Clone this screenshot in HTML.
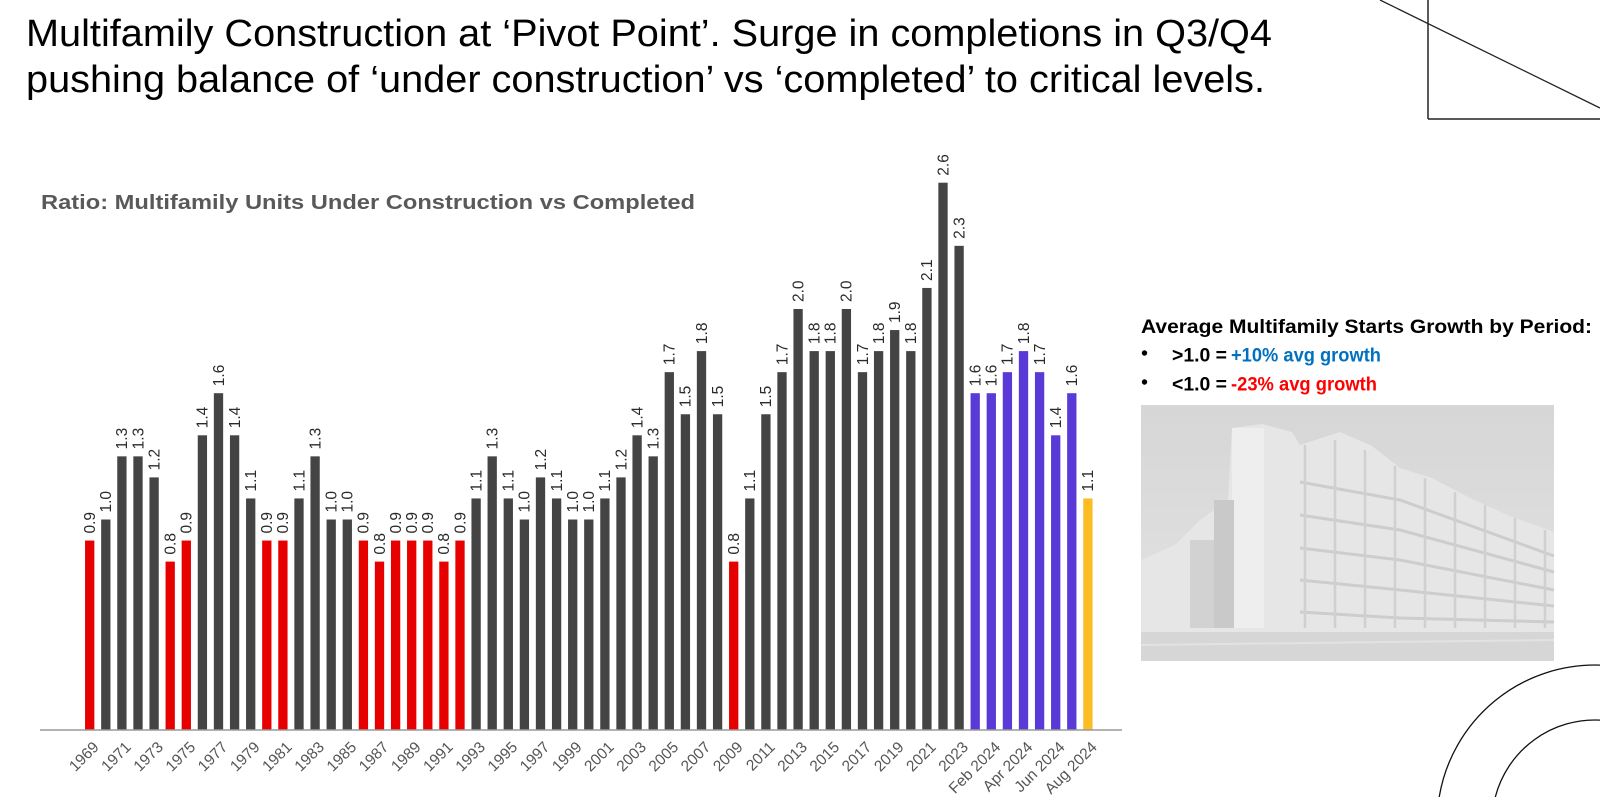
<!DOCTYPE html>
<html>
<head>
<meta charset="utf-8">
<style>
html,body{margin:0;padding:0;background:#fff;}
body{width:1600px;height:797px;overflow:hidden;}
svg{display:block;}
.d{fill:#444444;}
.r{fill:#e60000;}
.p{fill:#5a3ad6;}
.y{fill:#fbbc24;}
.v{font-family:"Liberation Sans",Arial,sans-serif;font-size:15.5px;fill:#2a2a2a;}
.xl{font-family:"Liberation Sans",Arial,sans-serif;font-size:15.5px;fill:#555;text-anchor:end;}
</style>
</head>
<body>
<svg width="1600" height="797" viewBox="0 0 1600 797" xmlns="http://www.w3.org/2000/svg">
<defs>
<linearGradient id="sky" x1="0" y1="0" x2="0" y2="1">
<stop offset="0" stop-color="#d6d6d6"/>
<stop offset="0.6" stop-color="#dedede"/>
<stop offset="1" stop-color="#d9d9d9"/>
</linearGradient>
</defs>

<!-- Title -->
<text x="26" y="46" font-family="'Liberation Sans',Arial,sans-serif" font-size="38" fill="#000" textLength="1246" lengthAdjust="spacingAndGlyphs">Multifamily Construction at ‘Pivot Point’. Surge in completions in Q3/Q4</text>
<text x="26" y="92" font-family="'Liberation Sans',Arial,sans-serif" font-size="38" fill="#000" textLength="1239" lengthAdjust="spacingAndGlyphs">pushing balance of ‘under construction’ vs ‘completed’ to critical levels.</text>

<!-- Decorations -->
<line x1="1428" y1="0" x2="1428" y2="119" stroke="#222" stroke-width="1.5"/>
<line x1="1428" y1="119" x2="1600" y2="119" stroke="#222" stroke-width="1.5"/>
<line x1="1380" y1="0" x2="1600" y2="108" stroke="#222" stroke-width="1.3"/>
<path d="M1439.2,797 A158,158 0 0,1 1600,665.1" fill="none" stroke="#111" stroke-width="1.3"/>
<path d="M1495.3,797 A103,103 0 0,1 1600,720.1" fill="none" stroke="#111" stroke-width="1.3"/>

<!-- Chart subtitle -->
<text x="41" y="209" font-family="'Liberation Sans',Arial,sans-serif" font-size="20" font-weight="bold" fill="#595959" textLength="654" lengthAdjust="spacingAndGlyphs">Ratio: Multifamily Units Under Construction vs Completed</text>

<!-- Bars -->
<g transform="translate(89.7,730)"><rect class="r" x="-4.65" y="-189.45" width="9.3" height="189.45"/><text class="v" transform="translate(5.3,-196.45) rotate(-90)">0.9</text></g>
<g transform="translate(105.8,730)"><rect class="d" x="-4.65" y="-210.5" width="9.3" height="210.5"/><text class="v" transform="translate(5.3,-217.5) rotate(-90)">1.0</text></g>
<g transform="translate(121.9,730)"><rect class="d" x="-4.65" y="-273.65" width="9.3" height="273.65"/><text class="v" transform="translate(5.3,-280.65) rotate(-90)">1.3</text></g>
<g transform="translate(138.0,730)"><rect class="d" x="-4.65" y="-273.65" width="9.3" height="273.65"/><text class="v" transform="translate(5.3,-280.65) rotate(-90)">1.3</text></g>
<g transform="translate(154.1,730)"><rect class="d" x="-4.65" y="-252.6" width="9.3" height="252.6"/><text class="v" transform="translate(5.3,-259.6) rotate(-90)">1.2</text></g>
<g transform="translate(170.2,730)"><rect class="r" x="-4.65" y="-168.4" width="9.3" height="168.4"/><text class="v" transform="translate(5.3,-175.4) rotate(-90)">0.8</text></g>
<g transform="translate(186.3,730)"><rect class="r" x="-4.65" y="-189.45" width="9.3" height="189.45"/><text class="v" transform="translate(5.3,-196.45) rotate(-90)">0.9</text></g>
<g transform="translate(202.4,730)"><rect class="d" x="-4.65" y="-294.7" width="9.3" height="294.7"/><text class="v" transform="translate(5.3,-301.7) rotate(-90)">1.4</text></g>
<g transform="translate(218.5,730)"><rect class="d" x="-4.65" y="-336.8" width="9.3" height="336.8"/><text class="v" transform="translate(5.3,-343.8) rotate(-90)">1.6</text></g>
<g transform="translate(234.6,730)"><rect class="d" x="-4.65" y="-294.7" width="9.3" height="294.7"/><text class="v" transform="translate(5.3,-301.7) rotate(-90)">1.4</text></g>
<g transform="translate(250.7,730)"><rect class="d" x="-4.65" y="-231.55" width="9.3" height="231.55"/><text class="v" transform="translate(5.3,-238.55) rotate(-90)">1.1</text></g>
<g transform="translate(266.8,730)"><rect class="r" x="-4.65" y="-189.45" width="9.3" height="189.45"/><text class="v" transform="translate(5.3,-196.45) rotate(-90)">0.9</text></g>
<g transform="translate(282.9,730)"><rect class="r" x="-4.65" y="-189.45" width="9.3" height="189.45"/><text class="v" transform="translate(5.3,-196.45) rotate(-90)">0.9</text></g>
<g transform="translate(299.0,730)"><rect class="d" x="-4.65" y="-231.55" width="9.3" height="231.55"/><text class="v" transform="translate(5.3,-238.55) rotate(-90)">1.1</text></g>
<g transform="translate(315.1,730)"><rect class="d" x="-4.65" y="-273.65" width="9.3" height="273.65"/><text class="v" transform="translate(5.3,-280.65) rotate(-90)">1.3</text></g>
<g transform="translate(331.2,730)"><rect class="d" x="-4.65" y="-210.5" width="9.3" height="210.5"/><text class="v" transform="translate(5.3,-217.5) rotate(-90)">1.0</text></g>
<g transform="translate(347.3,730)"><rect class="d" x="-4.65" y="-210.5" width="9.3" height="210.5"/><text class="v" transform="translate(5.3,-217.5) rotate(-90)">1.0</text></g>
<g transform="translate(363.4,730)"><rect class="r" x="-4.65" y="-189.45" width="9.3" height="189.45"/><text class="v" transform="translate(5.3,-196.45) rotate(-90)">0.9</text></g>
<g transform="translate(379.5,730)"><rect class="r" x="-4.65" y="-168.4" width="9.3" height="168.4"/><text class="v" transform="translate(5.3,-175.4) rotate(-90)">0.8</text></g>
<g transform="translate(395.6,730)"><rect class="r" x="-4.65" y="-189.45" width="9.3" height="189.45"/><text class="v" transform="translate(5.3,-196.45) rotate(-90)">0.9</text></g>
<g transform="translate(411.7,730)"><rect class="r" x="-4.65" y="-189.45" width="9.3" height="189.45"/><text class="v" transform="translate(5.3,-196.45) rotate(-90)">0.9</text></g>
<g transform="translate(427.8,730)"><rect class="r" x="-4.65" y="-189.45" width="9.3" height="189.45"/><text class="v" transform="translate(5.3,-196.45) rotate(-90)">0.9</text></g>
<g transform="translate(443.9,730)"><rect class="r" x="-4.65" y="-168.4" width="9.3" height="168.4"/><text class="v" transform="translate(5.3,-175.4) rotate(-90)">0.8</text></g>
<g transform="translate(460.0,730)"><rect class="r" x="-4.65" y="-189.45" width="9.3" height="189.45"/><text class="v" transform="translate(5.3,-196.45) rotate(-90)">0.9</text></g>
<g transform="translate(476.1,730)"><rect class="d" x="-4.65" y="-231.55" width="9.3" height="231.55"/><text class="v" transform="translate(5.3,-238.55) rotate(-90)">1.1</text></g>
<g transform="translate(492.2,730)"><rect class="d" x="-4.65" y="-273.65" width="9.3" height="273.65"/><text class="v" transform="translate(5.3,-280.65) rotate(-90)">1.3</text></g>
<g transform="translate(508.3,730)"><rect class="d" x="-4.65" y="-231.55" width="9.3" height="231.55"/><text class="v" transform="translate(5.3,-238.55) rotate(-90)">1.1</text></g>
<g transform="translate(524.4,730)"><rect class="d" x="-4.65" y="-210.5" width="9.3" height="210.5"/><text class="v" transform="translate(5.3,-217.5) rotate(-90)">1.0</text></g>
<g transform="translate(540.5,730)"><rect class="d" x="-4.65" y="-252.6" width="9.3" height="252.6"/><text class="v" transform="translate(5.3,-259.6) rotate(-90)">1.2</text></g>
<g transform="translate(556.6,730)"><rect class="d" x="-4.65" y="-231.55" width="9.3" height="231.55"/><text class="v" transform="translate(5.3,-238.55) rotate(-90)">1.1</text></g>
<g transform="translate(572.7,730)"><rect class="d" x="-4.65" y="-210.5" width="9.3" height="210.5"/><text class="v" transform="translate(5.3,-217.5) rotate(-90)">1.0</text></g>
<g transform="translate(588.8,730)"><rect class="d" x="-4.65" y="-210.5" width="9.3" height="210.5"/><text class="v" transform="translate(5.3,-217.5) rotate(-90)">1.0</text></g>
<g transform="translate(604.9,730)"><rect class="d" x="-4.65" y="-231.55" width="9.3" height="231.55"/><text class="v" transform="translate(5.3,-238.55) rotate(-90)">1.1</text></g>
<g transform="translate(621.0,730)"><rect class="d" x="-4.65" y="-252.6" width="9.3" height="252.6"/><text class="v" transform="translate(5.3,-259.6) rotate(-90)">1.2</text></g>
<g transform="translate(637.1,730)"><rect class="d" x="-4.65" y="-294.7" width="9.3" height="294.7"/><text class="v" transform="translate(5.3,-301.7) rotate(-90)">1.4</text></g>
<g transform="translate(653.2,730)"><rect class="d" x="-4.65" y="-273.65" width="9.3" height="273.65"/><text class="v" transform="translate(5.3,-280.65) rotate(-90)">1.3</text></g>
<g transform="translate(669.3,730)"><rect class="d" x="-4.65" y="-357.85" width="9.3" height="357.85"/><text class="v" transform="translate(5.3,-364.85) rotate(-90)">1.7</text></g>
<g transform="translate(685.4,730)"><rect class="d" x="-4.65" y="-315.75" width="9.3" height="315.75"/><text class="v" transform="translate(5.3,-322.75) rotate(-90)">1.5</text></g>
<g transform="translate(701.5,730)"><rect class="d" x="-4.65" y="-378.9" width="9.3" height="378.9"/><text class="v" transform="translate(5.3,-385.9) rotate(-90)">1.8</text></g>
<g transform="translate(717.6,730)"><rect class="d" x="-4.65" y="-315.75" width="9.3" height="315.75"/><text class="v" transform="translate(5.3,-322.75) rotate(-90)">1.5</text></g>
<g transform="translate(733.7,730)"><rect class="r" x="-4.65" y="-168.4" width="9.3" height="168.4"/><text class="v" transform="translate(5.3,-175.4) rotate(-90)">0.8</text></g>
<g transform="translate(749.8,730)"><rect class="d" x="-4.65" y="-231.55" width="9.3" height="231.55"/><text class="v" transform="translate(5.3,-238.55) rotate(-90)">1.1</text></g>
<g transform="translate(765.9,730)"><rect class="d" x="-4.65" y="-315.75" width="9.3" height="315.75"/><text class="v" transform="translate(5.3,-322.75) rotate(-90)">1.5</text></g>
<g transform="translate(782.0,730)"><rect class="d" x="-4.65" y="-357.85" width="9.3" height="357.85"/><text class="v" transform="translate(5.3,-364.85) rotate(-90)">1.7</text></g>
<g transform="translate(798.1,730)"><rect class="d" x="-4.65" y="-421" width="9.3" height="421"/><text class="v" transform="translate(5.3,-428) rotate(-90)">2.0</text></g>
<g transform="translate(814.2,730)"><rect class="d" x="-4.65" y="-378.9" width="9.3" height="378.9"/><text class="v" transform="translate(5.3,-385.9) rotate(-90)">1.8</text></g>
<g transform="translate(830.3,730)"><rect class="d" x="-4.65" y="-378.9" width="9.3" height="378.9"/><text class="v" transform="translate(5.3,-385.9) rotate(-90)">1.8</text></g>
<g transform="translate(846.4,730)"><rect class="d" x="-4.65" y="-421" width="9.3" height="421"/><text class="v" transform="translate(5.3,-428) rotate(-90)">2.0</text></g>
<g transform="translate(862.5,730)"><rect class="d" x="-4.65" y="-357.85" width="9.3" height="357.85"/><text class="v" transform="translate(5.3,-364.85) rotate(-90)">1.7</text></g>
<g transform="translate(878.6,730)"><rect class="d" x="-4.65" y="-378.9" width="9.3" height="378.9"/><text class="v" transform="translate(5.3,-385.9) rotate(-90)">1.8</text></g>
<g transform="translate(894.7,730)"><rect class="d" x="-4.65" y="-399.95" width="9.3" height="399.95"/><text class="v" transform="translate(5.3,-406.95) rotate(-90)">1.9</text></g>
<g transform="translate(910.8,730)"><rect class="d" x="-4.65" y="-378.9" width="9.3" height="378.9"/><text class="v" transform="translate(5.3,-385.9) rotate(-90)">1.8</text></g>
<g transform="translate(926.9,730)"><rect class="d" x="-4.65" y="-442.05" width="9.3" height="442.05"/><text class="v" transform="translate(5.3,-449.05) rotate(-90)">2.1</text></g>
<g transform="translate(943.0,730)"><rect class="d" x="-4.65" y="-547.3" width="9.3" height="547.3"/><text class="v" transform="translate(5.3,-554.3) rotate(-90)">2.6</text></g>
<g transform="translate(959.1,730)"><rect class="d" x="-4.65" y="-484.15" width="9.3" height="484.15"/><text class="v" transform="translate(5.3,-491.15) rotate(-90)">2.3</text></g>
<g transform="translate(975.2,730)"><rect class="p" x="-4.65" y="-336.8" width="9.3" height="336.8"/><text class="v" transform="translate(5.3,-343.8) rotate(-90)">1.6</text></g>
<g transform="translate(991.3,730)"><rect class="p" x="-4.65" y="-336.8" width="9.3" height="336.8"/><text class="v" transform="translate(5.3,-343.8) rotate(-90)">1.6</text></g>
<g transform="translate(1007.4,730)"><rect class="p" x="-4.65" y="-357.85" width="9.3" height="357.85"/><text class="v" transform="translate(5.3,-364.85) rotate(-90)">1.7</text></g>
<g transform="translate(1023.5,730)"><rect class="p" x="-4.65" y="-378.9" width="9.3" height="378.9"/><text class="v" transform="translate(5.3,-385.9) rotate(-90)">1.8</text></g>
<g transform="translate(1039.6,730)"><rect class="p" x="-4.65" y="-357.85" width="9.3" height="357.85"/><text class="v" transform="translate(5.3,-364.85) rotate(-90)">1.7</text></g>
<g transform="translate(1055.7,730)"><rect class="p" x="-4.65" y="-294.7" width="9.3" height="294.7"/><text class="v" transform="translate(5.3,-301.7) rotate(-90)">1.4</text></g>
<g transform="translate(1071.8,730)"><rect class="p" x="-4.65" y="-336.8" width="9.3" height="336.8"/><text class="v" transform="translate(5.3,-343.8) rotate(-90)">1.6</text></g>
<g transform="translate(1087.9,730)"><rect class="y" x="-4.65" y="-231.55" width="9.3" height="231.55"/><text class="v" transform="translate(5.3,-238.55) rotate(-90)">1.1</text></g>

<!-- Axis -->
<line x1="40" y1="730" x2="1122" y2="730" stroke="#9a9a9a" stroke-width="1.5"/>

<!-- X labels -->
<text class="xl" transform="translate(99.7,748) rotate(-45)">1969</text>
<text class="xl" transform="translate(131.9,748) rotate(-45)">1971</text>
<text class="xl" transform="translate(164.1,748) rotate(-45)">1973</text>
<text class="xl" transform="translate(196.3,748) rotate(-45)">1975</text>
<text class="xl" transform="translate(228.5,748) rotate(-45)">1977</text>
<text class="xl" transform="translate(260.7,748) rotate(-45)">1979</text>
<text class="xl" transform="translate(292.9,748) rotate(-45)">1981</text>
<text class="xl" transform="translate(325.1,748) rotate(-45)">1983</text>
<text class="xl" transform="translate(357.3,748) rotate(-45)">1985</text>
<text class="xl" transform="translate(389.5,748) rotate(-45)">1987</text>
<text class="xl" transform="translate(421.7,748) rotate(-45)">1989</text>
<text class="xl" transform="translate(453.9,748) rotate(-45)">1991</text>
<text class="xl" transform="translate(486.1,748) rotate(-45)">1993</text>
<text class="xl" transform="translate(518.3,748) rotate(-45)">1995</text>
<text class="xl" transform="translate(550.5,748) rotate(-45)">1997</text>
<text class="xl" transform="translate(582.7,748) rotate(-45)">1999</text>
<text class="xl" transform="translate(614.9,748) rotate(-45)">2001</text>
<text class="xl" transform="translate(647.1,748) rotate(-45)">2003</text>
<text class="xl" transform="translate(679.3,748) rotate(-45)">2005</text>
<text class="xl" transform="translate(711.5,748) rotate(-45)">2007</text>
<text class="xl" transform="translate(743.7,748) rotate(-45)">2009</text>
<text class="xl" transform="translate(775.9,748) rotate(-45)">2011</text>
<text class="xl" transform="translate(808.1,748) rotate(-45)">2013</text>
<text class="xl" transform="translate(840.3,748) rotate(-45)">2015</text>
<text class="xl" transform="translate(872.5,748) rotate(-45)">2017</text>
<text class="xl" transform="translate(904.7,748) rotate(-45)">2019</text>
<text class="xl" transform="translate(936.9,748) rotate(-45)">2021</text>
<text class="xl" transform="translate(969.1,748) rotate(-45)">2023</text>
<text class="xl" transform="translate(1001.3,748) rotate(-45)">Feb 2024</text>
<text class="xl" transform="translate(1033.5,748) rotate(-45)">Apr 2024</text>
<text class="xl" transform="translate(1065.7,748) rotate(-45)">Jun 2024</text>
<text class="xl" transform="translate(1097.9,748) rotate(-45)">Aug 2024</text>

<!-- Legend text -->
<text x="1141" y="333" font-family="'Liberation Sans',Arial,sans-serif" font-size="19" font-weight="bold" fill="#000" textLength="451" lengthAdjust="spacingAndGlyphs">Average Multifamily Starts Growth by Period:</text>
<circle cx="1144.5" cy="353" r="2.7" fill="#000"/>
<circle cx="1144.5" cy="382" r="2.7" fill="#000"/>
<text x="1172" y="361.7" font-family="'Liberation Sans',Arial,sans-serif" font-size="19" font-weight="bold" fill="#000" textLength="55" lengthAdjust="spacingAndGlyphs">&gt;1.0 =</text>
<text x="1231" y="361.7" font-family="'Liberation Sans',Arial,sans-serif" font-size="19" font-weight="bold" fill="#0070c0" textLength="150" lengthAdjust="spacingAndGlyphs">+10% avg growth</text>
<text x="1172" y="390.7" font-family="'Liberation Sans',Arial,sans-serif" font-size="19" font-weight="bold" fill="#000" textLength="55" lengthAdjust="spacingAndGlyphs">&lt;1.0 =</text>
<text x="1231" y="390.7" font-family="'Liberation Sans',Arial,sans-serif" font-size="19" font-weight="bold" fill="#ff0000" textLength="146" lengthAdjust="spacingAndGlyphs">-23% avg growth</text>

<!-- Photo approximation -->
<g>
<rect x="1141" y="405" width="413" height="256" fill="url(#sky)"/>
<polygon points="1141,560 1175,545 1200,520 1228,500 1232,428 1262,424 1292,432 1300,445 1340,432 1372,446 1400,468 1432,478 1470,498 1510,516 1554,532 1554,632 1141,632" fill="#e6e6e6"/>
<rect x="1232" y="428" width="32" height="200" fill="#eeeeee"/>
<rect x="1214" y="500" width="20" height="128" fill="#c9c9c9"/>
<rect x="1190" y="540" width="24" height="88" fill="#d2d2d2"/>
<g stroke="#cdcdcd" stroke-width="3" fill="none">
<polyline points="1300,482 1400,500 1554,556"/>
<polyline points="1300,515 1400,530 1554,572"/>
<polyline points="1300,548 1400,560 1554,590"/>
<polyline points="1300,580 1400,590 1554,606"/>
<polyline points="1300,612 1400,618 1554,622"/>
</g>
<g stroke="#d0d0d0" stroke-width="2.5">
<line x1="1305" y1="445" x2="1305" y2="628"/>
<line x1="1335" y1="440" x2="1335" y2="628"/>
<line x1="1365" y1="450" x2="1365" y2="628"/>
<line x1="1395" y1="466" x2="1395" y2="628"/>
<line x1="1425" y1="478" x2="1425" y2="628"/>
<line x1="1455" y1="492" x2="1455" y2="628"/>
<line x1="1485" y1="505" x2="1485" y2="628"/>
<line x1="1515" y1="518" x2="1515" y2="628"/>
<line x1="1545" y1="530" x2="1545" y2="628"/>
</g>
<rect x="1141" y="632" width="413" height="29" fill="#d6d6d6"/>
<line x1="1141" y1="645" x2="1554" y2="640" stroke="#e2e2e2" stroke-width="2"/>
</g>
</svg>
</body>
</html>
